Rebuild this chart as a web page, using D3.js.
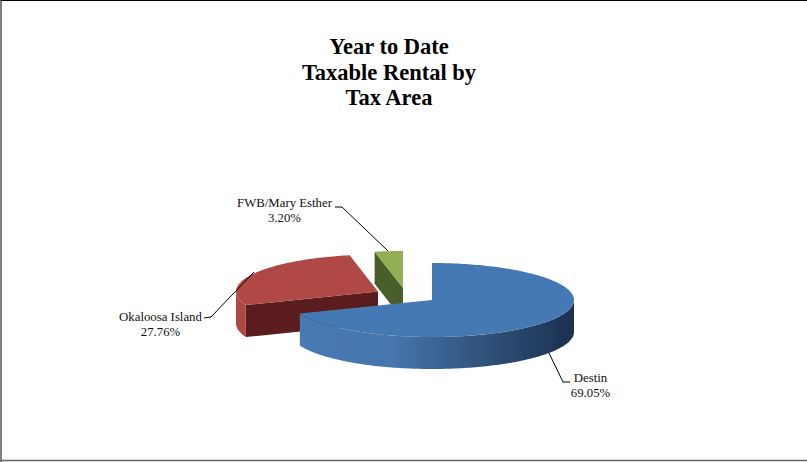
<!doctype html>
<html>
<head>
<meta charset="utf-8">
<title>Year to Date Taxable Rental by Tax Area</title>
<script src="https://cdnjs.cloudflare.com/ajax/libs/d3/7.8.5/d3.min.js"></script>
<style>
html, body { margin: 0; padding: 0; background: #fff; }
text { font-family: "Liberation Serif", serif; fill: #111; }
.title { font-size: 22.5px; font-weight: bold; text-anchor: middle; fill: #000; }
.label { font-size: 12.8px; text-anchor: middle; }
</style>
</head>
<body>
<div id="chartContainer"></div>
<script type="text/javascript">
var categories = ["Destin", "Okaloosa Island", "FWB/Mary Esther"];
var shares = [69.05, 27.76, 3.20];
var shareLabels = ["69.05%", "27.76%", "3.20%"];
var titleLines = ["Year to Date", "Taxable Rental by", "Tax Area"];

var width = 807, height = 462;
var cx = 432, cy = 300, rx = 142, ry = 37, depth = 32;

// slices were dragged out by hand in the original, so offsets are per slice
var offsets = [{x: 0, y: 0}, {x: -54, y: -8.5}, {x: -29, y: -12}];
var topColors = ["#4579b4", "#b04a45", "#93ae55"];
var sideColors = ["url(#blueWall)", "#ad4843", "#4a5e2a"];
var cutColors = ["#2e5482", "#5a1d1a", "#4a5e2a"];

var labelPos = [{x: 590.5, y: 382}, {x: 160.5, y: 321}, {x: 284.5, y: 207}];
var leaders = [
	[[549, 353], [563, 382], [570, 382]],
	[[254, 272], [211, 317], [204, 318]],
	[[388, 251], [342, 207], [335, 207]]
];

var svg = d3.select("#chartContainer").append("svg")
	.attr("width", width)
	.attr("height", height)
	.style("display", "block");

var defs = svg.append("defs");

// gradient runs in the slice's own coordinates, apex at 0,0
var blueGrad = defs.append("linearGradient")
	.attr("id", "blueWall")
	.attr("gradientUnits", "userSpaceOnUse")
	.attr("x1", -rx).attr("x2", rx)
	.attr("y1", 0).attr("y2", 0);
blueGrad.append("stop").attr("offset", "0").attr("stop-color", "#4a7ab5");
blueGrad.append("stop").attr("offset", "0.35").attr("stop-color", "#4676ae");
blueGrad.append("stop").attr("offset", "0.7").attr("stop-color", "#2f5078");
blueGrad.append("stop").attr("offset", "1").attr("stop-color", "#1b3150");

defs.append("filter").attr("id", "soft")
	.append("feGaussianBlur").attr("stdDeviation", 0.45);

// frame, right side is open in the reference
svg.append("line").attr("x1", 0).attr("x2", width).attr("y1", 0.5).attr("y2", 0.5)
	.attr("stroke", "#000").attr("stroke-width", 1);
svg.append("line").attr("x1", 1).attr("x2", 1).attr("y1", 0).attr("y2", height)
	.attr("stroke", "#555").attr("stroke-width", 1.5);
svg.append("line").attr("x1", 0).attr("x2", width).attr("y1", 460.5).attr("y2", 460.5)
	.attr("stroke", "#666").attr("stroke-width", 1.5);

svg.selectAll(".title").data(titleLines).enter().append("text")
	.attr("class", "title")
	.attr("x", 389)
	.attr("y", function (d, i) { return 54 + i * 25.5; })
	.text(function (d) { return d; });

var pie = d3.pie().sort(null).value(function (d) { return d; });
var arcs = pie(shares);

var px = function (a) { return rx * Math.sin(a); };
var py = function (a) { return -ry * Math.cos(a); };

// outer wall of one slice, only the part facing the viewer
function wallPath(d) {
	var a0 = Math.max(d.startAngle, Math.PI / 2);
	var a1 = Math.min(d.endAngle, 3 * Math.PI / 2);
	if (a1 <= a0) return null;
	var angles = d3.range(a0, a1, 0.02).concat([a1]);
	var top = angles.map(function (a) { return [px(a), py(a)]; });
	var bottom = angles.slice().reverse().map(function (a) { return [px(a), py(a) + depth]; });
	return d3.line()(top.concat(bottom)) + "Z";
}

// flat cut face from the apex out to the rim
function cutPath(a) {
	var p = [px(a), py(a)];
	return d3.line()([[0, 0], p, [p[0], p[1] + depth], [0, depth]]) + "Z";
}

function topPath(d) {
	var angles = d3.range(d.startAngle, d.endAngle, 0.02).concat([d.endAngle]);
	var rim = angles.map(function (a) { return [px(a), py(a)]; });
	return d3.line()([[0, 0]].concat(rim)) + "Z";
}

var pieG = svg.append("g").attr("filter", "url(#soft)");

// back to front: green, red, blue
[2, 1, 0].forEach(function (i) {
	var d = arcs[i];
	var g = pieG.append("g")
		.attr("transform", "translate(" + (cx + offsets[i].x) + "," + (cy + offsets[i].y) + ")");
	if (i > 0) {
		g.append("path").attr("d", cutPath(d.startAngle)).attr("fill", cutColors[i]);
	}
	var wall = wallPath(d);
	if (wall) {
		g.append("path").attr("d", wall).attr("fill", sideColors[i]);
	}
	g.append("path").attr("d", topPath(d)).attr("fill", topColors[i]);
});

svg.selectAll(".leader").data(leaders).enter().append("path")
	.attr("class", "leader")
	.attr("d", function (d) { return d3.line()(d); })
	.attr("fill", "none")
	.attr("stroke", "#000")
	.attr("stroke-width", 1);

categories.forEach(function (c, i) {
	var t = svg.append("text").attr("class", "label")
		.attr("x", labelPos[i].x).attr("y", labelPos[i].y);
	t.append("tspan").attr("x", labelPos[i].x).text(c);
	t.append("tspan").attr("x", labelPos[i].x).attr("dy", 15).text(shareLabels[i]);
});
</script>
</body>
</html>
